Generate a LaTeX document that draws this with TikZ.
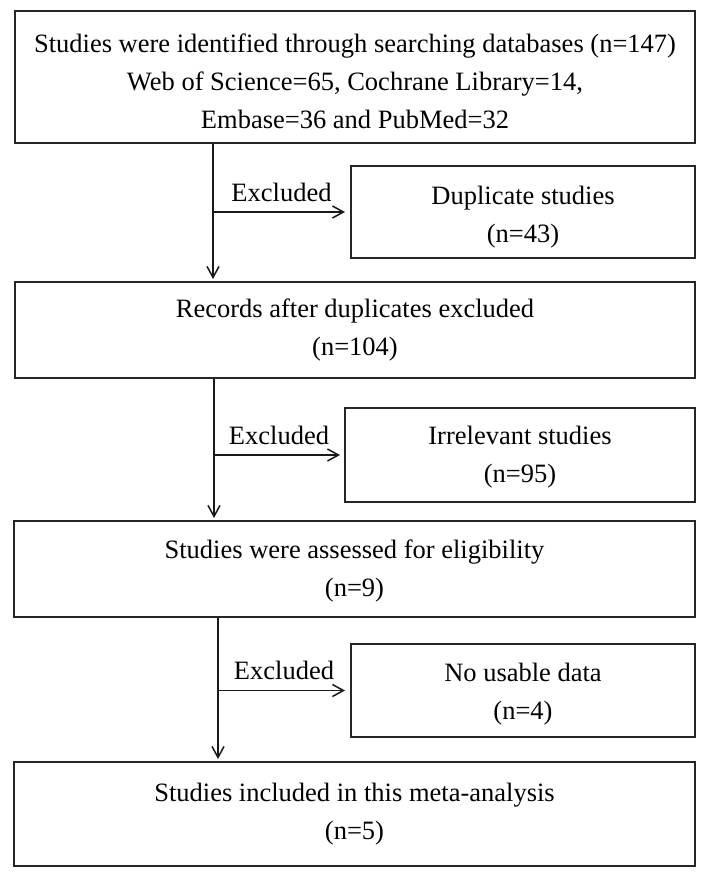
\documentclass[tikz,border=0pt]{standalone}
\usepackage{fontspec}
\setmainfont{Liberation Serif}
\usetikzlibrary{arrows.meta}
\newcommand{\mystrut}[1]{\rule{0pt}{#1}}
\tikzset{
  box/.style={draw=black!85, line width=2pt, rectangle, align=center, inner sep=0pt,
    font=\fontsize{26.5}{38}\selectfont, text=black},
  arr/.style={line width=1.5pt, draw=black!90, -{Straight Barb[length=11pt,width=12pt,line width=1.5pt]}},
  lab/.style={font=\fontsize{26.5}{38}\selectfont, anchor=base, inner sep=0pt, text=black}
}
\begin{document}
\begin{tikzpicture}[x=1pt,y=1pt]
\useasboundingbox (0,0) rectangle (708,-877);
\fill[white] (0,0) rectangle (708,-877);

\node[box, minimum width=680pt, minimum height=132pt] (b1) at (355,-77)
  {\mystrut{27pt}Studies were identified through searching databases (n=147)\\
   Web of Science=65, Cochrane Library=14,\\
   Embase=36 and PubMed=32};
\node[box, minimum width=344pt, minimum height=92pt] (d1) at (523,-212)
  {\mystrut{28pt}Duplicate studies\\(n=43)};
\node[box, minimum width=680pt, minimum height=96pt] (b2) at (355,-330)
  {Records after duplicates excluded\\(n=104)};
\node[box, minimum width=350pt, minimum height=94pt] (i1) at (520,-455)
  {\mystrut{23.5pt}Irrelevant studies\\(n=95)};
\node[box, minimum width=681pt, minimum height=96pt] (b3) at (354.5,-569)
  {\mystrut{22.5pt}Studies were assessed for eligibility\\(n=9)};
\node[box, minimum width=344pt, minimum height=93pt] (n1) at (523,-690.5)
  {\mystrut{26pt}No usable data\\(n=4)};
\node[box, minimum width=681pt, minimum height=104pt] (b4) at (354.5,-814)
  {Studies included in this meta-analysis\\(n=5)};

\coordinate (c1) at (213,0);
\coordinate (c2) at (214,0);
\coordinate (c3) at (218,0);

\draw[arr, shorten >=2pt] (b1.south -| c1) -- (b2.north -| c1);
\draw[arr, shorten >=5pt] (c1 |- d1.west) -- node[midway, lab, yshift=10pt] {Excluded} (d1.west);

\draw[arr, shorten >=2pt] (b2.south -| c2) -- (b3.north -| c2);
\draw[arr, shorten >=4pt] (c2 |- i1.west) -- node[midway, lab, yshift=11pt] {Excluded} (i1.west);

\draw[arr, shorten >=2pt] (b3.south -| c3) -- (b4.north -| c3);
\draw[arr, shorten >=5pt] (c3 |- n1.west) -- node[midway, lab, yshift=11pt] {Excluded} (n1.west);
\end{tikzpicture}
\end{document}
